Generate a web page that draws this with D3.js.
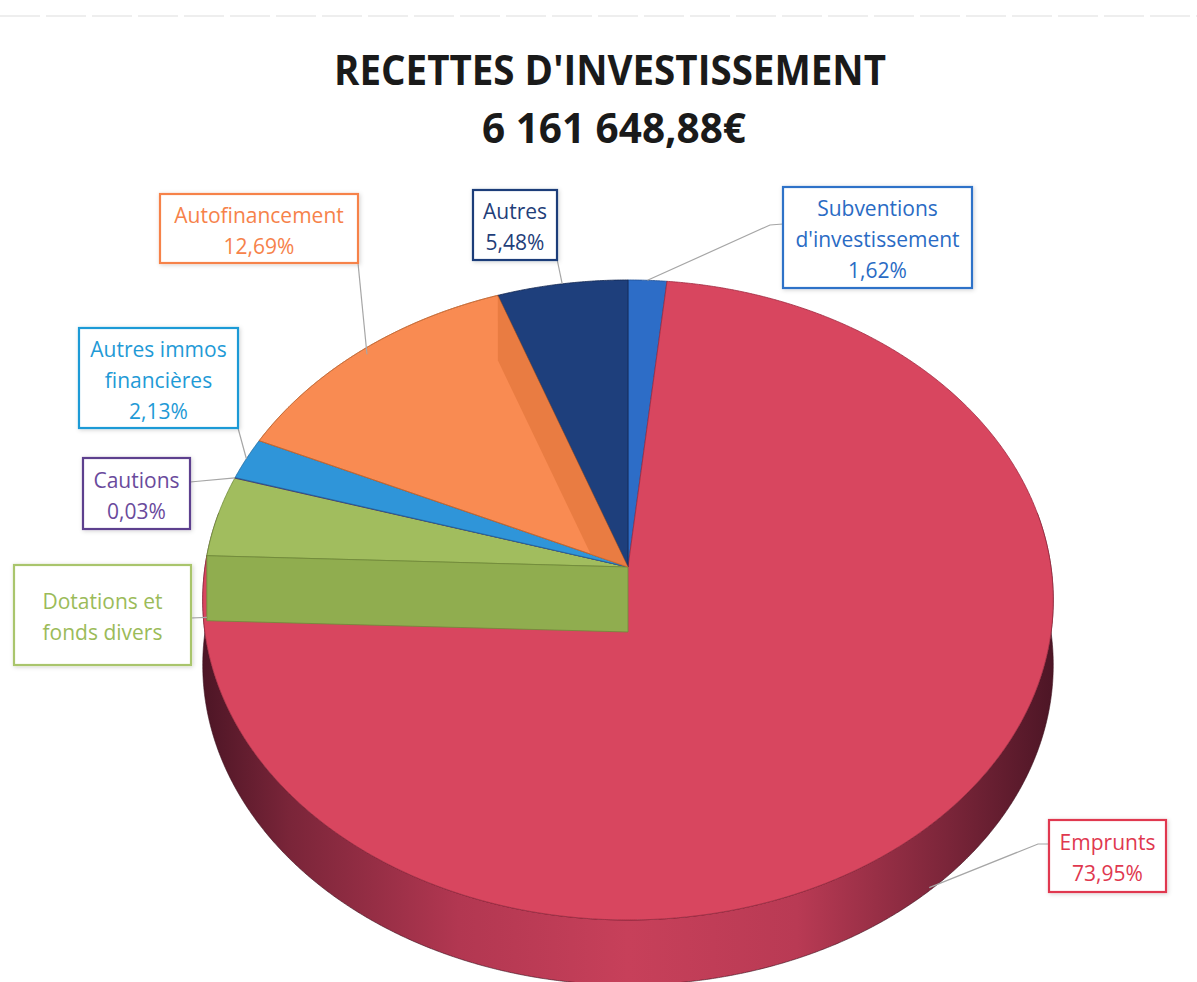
<!DOCTYPE html>
<html><head><meta charset="utf-8">
<script src="https://cdn.jsdelivr.net/npm/d3@7"></script>
<style>html,body{margin:0;padding:0;background:#fff;} svg{display:block}</style>
</head><body>
<svg id="chart" width="1197" height="982"></svg>
<script>
// ---------- DATA ----------
const titleLines = ["RECETTES D'INVESTISSEMENT", "6 161 648,88€"];
const sliceNames = ["Subventions d'investissement", "Emprunts", "Dotations et fonds divers", "Cautions", "Autres immos financières", "Autofinancement", "Autres"];
const sliceValues = [1.62, 73.95, 4.10, 0.03, 2.13, 12.69, 5.48];
const labelLines = [["Subventions", "d'investissement"], ["Emprunts"], ["Dotations et", "fonds divers"], ["Cautions"], ["Autres immos", "financières"], ["Autofinancement"], ["Autres"]];
const labelPercents = ["1,62%", "73,95%", null, "0,03%", "2,13%", "12,69%", "5,48%"];

// ---------- STYLE / LAYOUT ----------
const sliceColors = ["#2d6dc7", "#d8465f", "#a1bd5e", "#7048a0", "#2f95d9", "#f98b52", "#1e3f7c"];
const sliceStroke = ["#1f4f94", "#9e2a40", "#6f8a3a", "#4a2f70", "#1d6aa0", "#c0642f", "#112650"];
const labelColors = ["#2a6bc4", "#e0384f", "#9bbb59", "#6a4a9c", "#1f9ad6", "#f6824a", "#1f3e79"];
const labelBorders = ["#2d72c8", "#e0384f", "#a9c56c", "#5d3f8e", "#1f9ad6", "#f6824a", "#1f3e79"];
const layout = [
  {box: [783, 187, 189, 101], leader: [[783, 224], [770, 225]], drop: 0, r: 1},
  {box: [1049, 820, 117, 72], leader: [[1049, 844], [1038, 844]], drop: 0.95, r: 1},
  {box: [14, 565, 177, 100], leader: [[191, 618]], drop: 0.95, r: 1, useStart: true},
  {box: [83, 458, 107, 71], leader: [[190, 482]], drop: 0, r: 1},
  {box: [79, 328, 159, 100], leader: [[238, 428]], drop: 0, r: 1},
  {box: [160, 194, 198, 69], leader: [[358, 263]], drop: 0, r: 0.98},
  {box: [473, 190, 84, 70], leader: [[557, 259]], drop: 0, r: 1}
];

const W = 1197, H = 982;
const P = {cx: 628, cy: 567, A: 316.6, B: 423, k: 0.103, D: 65};
const xScale = d3.scaleLinear().domain([-1, 1]).range([P.cx - P.B, P.cx + P.B]);
const yScale = d3.scaleLinear().domain([-1, 1]).range([P.cy + P.A, P.cy - P.A]);
function proj(a, r, h) {
  const X = r * Math.sin(a), Z = r * Math.cos(a), w = 1 + P.k * Z;
  return [xScale(X / w), yScale(Z / w) + h * P.D];
}

const svg = d3.select("#chart");
const defs = svg.append("defs");

// shadow filter for label boxes
const f = defs.append("filter").attr("id", "sh").attr("x", "-20%").attr("y", "-20%").attr("width", "140%").attr("height", "140%");
f.append("feDropShadow").attr("dx", 1).attr("dy", 1).attr("stdDeviation", 2).attr("flood-color", "#000").attr("flood-opacity", 0.18);

// rim gradient (red front side)
const g = defs.append("linearGradient").attr("id", "rimGrad").attr("gradientUnits", "userSpaceOnUse")
  .attr("x1", P.cx - P.B).attr("x2", P.cx + P.B).attr("y1", 0).attr("y2", 0);
[[0, "#4e1626"], [0.1, "#7a2539"], [0.3, "#b23751"], [0.5, "#c7405a"], [0.7, "#b93a54"], [0.88, "#7a2539"], [1, "#4e1626"]]
  .forEach(([o, c]) => g.append("stop").attr("offset", o).attr("stop-color", c));

// faint frame line at top (scan artefact)
svg.append("line").attr("x1", 0).attr("x2", W).attr("y1", 16).attr("y2", 16)
  .attr("stroke", "#e9e9e9").attr("stroke-width", 1.5).attr("stroke-dasharray", "40 6");

// ---------- PIE ----------
const pie = d3.pie().sort(null).value(d => d).startAngle(0).endAngle(2 * Math.PI);
const arcs = pie(sliceValues);
const line = d3.line();
const STEP = Math.PI / 720;

function topPath(a0, a1) {
  const n = Math.max(2, Math.ceil((a1 - a0) / STEP));
  const pts = [proj(0, 0, 0)];
  for (let i = 0; i <= n; i++) pts.push(proj(a0 + (a1 - a0) * i / n, 1, 0));
  return line(pts) + "Z";
}
function rimPath(a0, a1) {
  const n = Math.max(2, Math.ceil((a1 - a0) / STEP));
  const top = [], bot = [];
  for (let i = 0; i <= n; i++) {
    const a = a0 + (a1 - a0) * i / n;
    top.push(proj(a, 1, 0));
    bot.push(proj(a, 1, 1));
  }
  return line(top.concat(bot.reverse())) + "Z";
}
function wallPath(a) {
  return line([proj(a, 0, 0), proj(a, 1, 0), proj(a, 1, 1), proj(a, 0, 1)]) + "Z";
}

const pieG = svg.append("g");
const lo = 80 * Math.PI / 180, hi = 280 * Math.PI / 180;

// outer rim (front side)
arcs.forEach((d, i) => {
  const a0 = Math.max(d.startAngle, lo), a1 = Math.min(d.endAngle, hi);
  if (a1 > a0) {
    pieG.append("path").attr("d", rimPath(a0, a1))
      .attr("fill", i === 1 ? "url(#rimGrad)" : d3.color(sliceColors[i]).darker(0.9))
      .attr("stroke", "#3a0f1c").attr("stroke-width", 0.6);
  }
});

// top faces
arcs.forEach((d, i) => {
  pieG.append("path").attr("d", topPath(d.startAngle, d.endAngle))
    .attr("fill", sliceColors[i]).attr("stroke", sliceStroke[i]).attr("stroke-width", 0.8)
    .attr("stroke-linejoin", "round");
});

// visible radial wall of "Dotations" (start edge) painted over the front
const dot = arcs[2];
pieG.append("path").attr("d", wallPath(dot.startAngle))
  .attr("fill", "#90ad4f").attr("stroke", "#6f8a3a").attr("stroke-width", 0.8);

// orange end wall, clipped to its own top face
const af = arcs[5];
defs.append("clipPath").attr("id", "afClip").append("path").attr("d", topPath(af.startAngle, af.endAngle));
pieG.append("path").attr("d", wallPath(af.endAngle)).attr("clip-path", "url(#afClip)")
  .attr("fill", "#e97c42");
pieG.append("path").attr("d", topPath(af.startAngle, af.endAngle)).attr("fill", "none")
  .attr("stroke", sliceStroke[5]).attr("stroke-width", 0.6);

// ---------- LABELS ----------
const labG = svg.append("g").attr("font-family", "'Open Sans', 'Noto Sans', sans-serif");
arcs.forEach((d, i) => {
  const L = layout[i];
  const ang = L.useStart ? d.startAngle : (d.startAngle + d.endAngle) / 2;
  const anchor = proj(ang, L.r, L.drop);
  labG.append("path").attr("d", line(L.leader.concat([anchor])))
    .attr("fill", "none").attr("stroke", "#a6a6a6").attr("stroke-width", 1.2);
  const [bx, by, bw, bh] = L.box;
  labG.append("rect").attr("x", bx).attr("y", by).attr("width", bw).attr("height", bh)
    .attr("fill", "#fff").attr("stroke", labelBorders[i]).attr("stroke-width", 2.2).attr("filter", "url(#sh)");
  const lines = labelLines[i].concat(labelPercents[i] ? [labelPercents[i]] : []);
  const n = lines.length, cy = by + bh / 2, cx = bx + bw / 2;
  lines.forEach((t, j) => {
    labG.append("text").attr("x", cx).attr("y", cy + (j - (n - 1) / 2) * 31 + 9.5)
      .attr("text-anchor", "middle").attr("font-size", 21).attr("fill", labelColors[i]).text(t);
  });
});

// ---------- TITLE ----------
const titleG = svg.append("g").attr("font-family", "'Open Sans', 'Noto Sans', sans-serif").attr("font-weight", "bold").attr("fill", "#1a1a1a");
titleG.append("text").attr("x", 610).attr("y", 85).attr("text-anchor", "middle").attr("font-size", 41)
  .attr("textLength", 552).attr("lengthAdjust", "spacingAndGlyphs").text(titleLines[0]);
titleG.append("text").attr("x", 614).attr("y", 143).attr("text-anchor", "middle").attr("font-size", 41)
  .attr("textLength", 264).attr("lengthAdjust", "spacingAndGlyphs").text(titleLines[1]);
</script>
</body></html>
